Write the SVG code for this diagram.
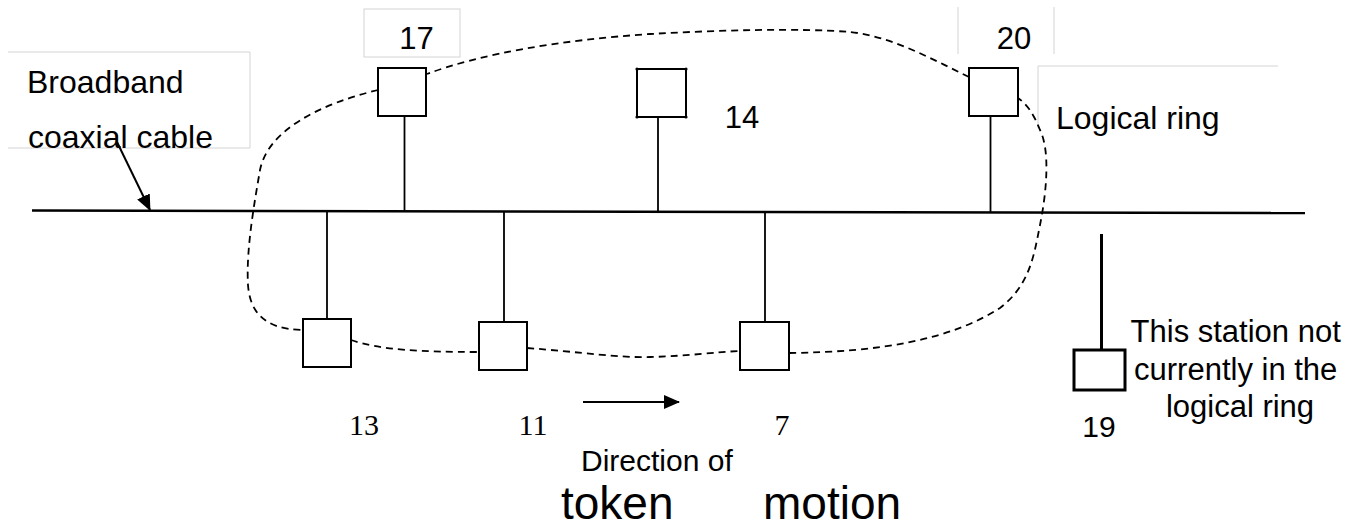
<svg xmlns="http://www.w3.org/2000/svg" width="1359" height="529" viewBox="0 0 1359 529">
<style>
.sans{font-family:"Liberation Sans",Arial,sans-serif;fill:#000}
.serif{font-family:"Liberation Serif","Times New Roman",serif;fill:#000}
.tb{fill:none;stroke:#d4d4d4;stroke-width:1}
.st{fill:#fff;stroke:#000;stroke-width:2}
.wire{stroke:#000;stroke-width:1.8;fill:none}
.ring{fill:none;stroke:#000;stroke-width:1.8;stroke-dasharray:7 5}
</style>
<defs>
<marker id="ah" viewBox="0 0 16 14" refX="15" refY="7" markerWidth="16" markerHeight="14" markerUnits="userSpaceOnUse" orient="auto">
<path d="M0,0 L16,7 L0,14 Z" fill="#000"/>
</marker>
</defs>
<rect width="1359" height="529" fill="#fff"/>

<g id="label-boxes">
<path class="tb" d="M8,52 H250 V148 H8"/>
<rect class="tb" x="364" y="9" width="96" height="48"/>
<path class="tb" d="M958,7 V54 M1054,7 V54"/>
<path class="tb" d="M1278,66 H1038 V128"/>
</g>

<g id="bus">
<path d="M32,210.5 L1305,213" stroke="#000" stroke-width="2.5" fill="none"/>
</g>

<g id="connectors">
<path class="wire" d="M404.5,116 V211.2"/>
<path class="wire" d="M658,117 V211.7"/>
<path class="wire" d="M990.5,116 V212.5"/>
<path class="wire" d="M327,211 V319"/>
<path class="wire" d="M504,211.5 V322"/>
<path class="wire" d="M765,212 V322"/>
<path d="M1101.5,234 V350" stroke="#000" stroke-width="3" fill="none"/>
<path d="M117,142 L150,210" stroke="#000" stroke-width="2" fill="none" marker-end="url(#ah)"/>
<path d="M583,402 L679,402" stroke="#000" stroke-width="2" fill="none" marker-end="url(#ah)"/>
</g>

<g id="logical-ring">
<path class="ring" d="M378,90 C320,104 268,130 260,170 C254,205 246,250 248,285 C250,312 264,329 302,330"/>
<path class="ring" d="M351,340 C380,350 420,352 479,352"/>
<path class="ring" d="M527,348 C580,352 620,358 650,357 C690,356 715,352 740,351"/>
<path class="ring" d="M789,353 C880,352 950,340 1000,308 C1030,285 1034,255 1040,225 C1047,190 1050,150 1040,130 C1034,115 1028,105 1018,98"/>
<path class="ring" d="M969,77 C930,58 890,36 850,32 C800,28 720,30 650,34 C560,40 480,54 427,74"/>
</g>

<g id="station-17">
<rect class="st" x="378" y="68" width="48" height="48"/>
<text class="sans" x="416.5" y="49" font-size="31" text-anchor="middle">17</text>
</g>
<g id="station-14">
<rect class="st" x="637" y="69" width="49" height="48"/>
<g fill="#000"><circle cx="637" cy="69" r="1.6"/><circle cx="686" cy="69" r="1.6"/><circle cx="637" cy="117" r="1.6"/><circle cx="686" cy="117" r="1.6"/></g>
<text class="sans" x="742" y="128" font-size="31" text-anchor="middle">14</text>
</g>
<g id="station-20">
<rect class="st" x="969" y="68" width="49" height="48"/>
<text class="sans" x="1014" y="49" font-size="31" text-anchor="middle">20</text>
</g>
<g id="station-13">
<rect class="st" x="303" y="319" width="48" height="48"/>
<text class="serif" x="364" y="435" font-size="30" text-anchor="middle">13</text>
</g>
<g id="station-11">
<rect class="st" x="479" y="322" width="48" height="48"/>
<text class="serif" x="533" y="435" font-size="30" text-anchor="middle">11</text>
</g>
<g id="station-7">
<rect class="st" x="740" y="322" width="49" height="48"/>
<text class="serif" x="782" y="435" font-size="30" text-anchor="middle">7</text>
</g>
<g id="station-19">
<rect x="1074" y="350" width="51" height="40" fill="#fff" stroke="#000" stroke-width="3"/>
<text class="sans" x="1099" y="437" font-size="30" text-anchor="middle">19</text>
</g>

<g id="labels">
<text class="sans" x="27" y="93" font-size="32">Broadband</text>
<text class="sans" x="28" y="148" font-size="32">coaxial cable</text>
<text class="sans" x="1056" y="129" font-size="32">Logical ring</text>
<text class="sans" font-size="31" text-anchor="middle">
<tspan x="1240" y="342">This station not</tspan>
<tspan x="1240" y="380">currently in the</tspan>
<tspan x="1240" y="417">logical ring</tspan>
</text>
<text class="sans" x="581" y="471" font-size="30">Direction of</text>
<text class="sans" x="561" y="519" font-size="46">token</text>
<text class="sans" x="763" y="519" font-size="46">motion</text>
</g>
</svg>
